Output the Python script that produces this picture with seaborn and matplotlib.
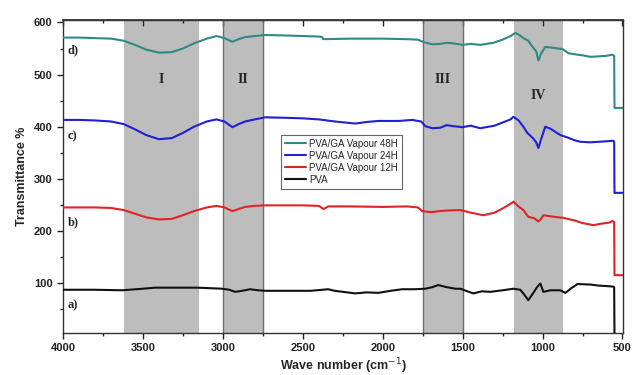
import numpy as np
import pandas as pd
import matplotlib
matplotlib.use("Agg")
import matplotlib.pyplot as plt
import seaborn as sns

# ---------------- data ----------------
wn_d = [4000, 3900, 3800, 3700, 3620, 3550, 3480, 3400, 3320, 3250, 3180, 3100, 3040, 2990,
        2940, 2900, 2860, 2800, 2735, 2600, 2500, 2400, 2380, 2370, 2200, 2000, 1850, 1780,
        1740, 1690, 1640, 1600, 1560, 1500, 1450, 1390, 1308, 1250, 1200, 1170, 1140, 1120,
        1090, 1057, 1040, 1026, 1010, 983, 950, 900, 876, 838, 800, 750, 700, 650, 600, 563,
        552, 550, 500]
val_d = [571, 571, 570, 569, 565, 557, 548, 542, 543, 550, 560, 569, 574, 570,
         563, 568, 572, 574, 576, 575, 574, 573, 572, 568, 569, 569, 568, 567,
         562, 558, 559, 561, 560, 557, 559, 557, 561, 567, 574, 580, 575, 570,
         565, 551, 545, 527, 540, 553, 552, 550, 549, 541, 539, 537, 534, 535, 536, 538,
         536, 436, 436]

wn_c = [4000, 3900, 3800, 3700, 3620, 3550, 3480, 3400, 3320, 3250, 3180, 3100, 3040, 2990,
        2940, 2900, 2860, 2800, 2735, 2600, 2500, 2400, 2300, 2172, 2100, 2028, 1900, 1815,
        1760, 1733, 1690, 1640, 1600, 1560, 1500, 1450, 1390, 1300, 1250, 1200, 1182, 1150,
        1120, 1095, 1060, 1040, 1026, 1010, 983, 950, 920, 889, 850, 800, 763, 700, 650, 600,
        557, 552, 550, 500]
val_c = [413, 413, 412, 410, 405, 395, 384, 376, 378, 388, 400, 410, 414, 410,
         399, 405, 410, 414, 418, 417, 416, 414, 410, 406, 409, 411, 411, 413,
         410, 401, 397, 398, 403, 401, 399, 402, 397, 402, 408, 414, 419, 412,
         400, 388, 378, 370, 359, 375, 400, 396, 390, 384, 380, 374, 371, 370, 371, 372,
         373, 371, 273, 273]

wn_b = [4000, 3900, 3800, 3700, 3620, 3550, 3480, 3400, 3320, 3250, 3180, 3100, 3040, 2990,
        2940, 2900, 2860, 2800, 2735, 2600, 2500, 2400, 2370, 2340, 2200, 2000, 1850, 1780,
        1753, 1700, 1640, 1600, 1514, 1450, 1370, 1300, 1250, 1200, 1182, 1150, 1120, 1089,
        1050, 1026, 1010, 995, 950, 900, 870, 800, 750, 682, 630, 580, 563, 552, 550, 500]
val_b = [245, 245, 245, 244, 240, 233, 226, 222, 223, 230, 238, 245, 248, 245,
         238, 242, 246, 248, 249, 249, 249, 248, 242, 247, 247, 246, 247, 245,
         238, 236, 238, 239, 240, 235, 230, 235, 243, 252, 256, 247, 240, 227,
         224, 218, 223, 230, 228, 226, 225, 220, 215, 211, 214, 216, 219, 217, 115, 115]

wn_a = [4000, 3800, 3630, 3500, 3424, 3300, 3155, 3005, 2960, 2923, 2880, 2829, 2780, 2735,
        2600, 2450, 2341, 2300, 2172, 2100, 2028, 1950, 1878, 1800, 1733, 1690, 1652, 1600,
        1546, 1514, 1470, 1433, 1380, 1327, 1250, 1182, 1140, 1120, 1089, 1060, 1032, 1014,
        995, 950, 889, 857, 820, 782, 700, 650, 594, 557, 552, 550, 500]
val_a = [87, 87, 86, 89, 91, 91, 91, 89, 87, 83, 85, 88, 86, 85,
         85, 85, 88, 85, 80, 82, 81, 85, 88, 88, 89, 92, 96, 92,
         89, 89, 84, 80, 84, 83, 86, 89, 87, 80, 67, 80, 93, 99,
         83, 86, 86, 81, 90, 98, 97, 95, 94, 93, 92, 0, 0]

series_names = ["PVA/GA Vapour 48H", "PVA/GA Vapour 24H", "PVA/GA Vapour 12H", "PVA"]
series_colors = ["#2e8b84", "#1f1fd6", "#e02424", "#111111"]
curve_tags = ["d)", "c)", "b)", "a)"]
curve_tag_y = [547, 382, 216, 58]

regions = [(3620, 3150), (3000, 2750), (1750, 1500), (1180, 870)]
region_names = ["I", "II", "III", "IV"]
region_label_y = [490, 490, 490, 459]
edged_regions = [1, 2]

# ---------------- figure ----------------
sns.set_theme(style="ticks")
plt.rcParams["font.family"] = ["Liberation Sans", "DejaVu Sans"]

fig = plt.figure(figsize=(6.36, 3.75), dpi=100)
ax = fig.add_axes([0.099, 0.112, 0.881, 0.835])

for i, (x0, x1) in enumerate(regions):
    ax.axvspan(x1, x0, color="#bdbdbd", lw=0, zorder=0)
    if i in edged_regions:
        ax.axvline(x0, color="#6e6e6e", lw=1.0, zorder=0.5)
        ax.axvline(x1, color="#6e6e6e", lw=1.0, zorder=0.5)

all_wn = [wn_d, wn_c, wn_b, wn_a]
all_val = [val_d, val_c, val_b, val_a]
frames = []
for name, w, v in zip(series_names, all_wn, all_val):
    frames.append(pd.DataFrame({"wn": w, "T": v, "series": name, "order": range(len(w))}))
df = pd.concat(frames, ignore_index=True)

for name, color in zip(series_names, series_colors):
    sub = df[df["series"] == name]
    sns.lineplot(data=sub, x="wn", y="T", color=color, lw=1.5, estimator=None,
                 sort=False, ax=ax, label=name, zorder=3)

ax.set_xlim(4000, 495)
ax.set_ylim(4, 605)
ax.set_xticks([4000, 3500, 3000, 2500, 2000, 1500, 1000, 500])
ax.set_xticks(np.arange(500, 4001, 250), minor=True)
ax.set_yticks([100, 200, 300, 400, 500, 600])
ax.set_yticks(np.arange(50, 601, 50), minor=True)
ax.tick_params(axis="both", which="major", direction="out", length=4, width=1,
               labelsize=8, colors="#222222")
ax.tick_params(axis="both", which="minor", direction="out", length=2.5, width=1)
for lab in ax.get_xticklabels() + ax.get_yticklabels():
    lab.set_fontweight("bold")
for sp in ax.spines.values():
    sp.set_visible(True)
    sp.set_color("#333333")
    sp.set_linewidth(1.0)

# inward ticks along the top frame
top = ax.secondary_xaxis("top")
top.set_xticks([4000, 3500, 3000, 2500, 2000, 1500, 1000, 500])
top.set_xticks(np.arange(500, 4001, 250), minor=True)
top.tick_params(which="major", direction="in", length=4, width=1, labeltop=False)
top.tick_params(which="minor", direction="in", length=2.5, width=1)
top.spines["top"].set_color("#333333")

ax.set_xlabel("Wave number (cm$^{-1}$)", fontsize=9, fontweight="bold", labelpad=2)
ax.set_ylabel("Transmittance %", fontsize=9, fontweight="bold", labelpad=4)

for tag, ty in zip(curve_tags, curve_tag_y):
    ax.text(3972, ty, tag, fontsize=9, fontweight="bold", family="Liberation Serif",
            ha="left", va="center", zorder=4)

for (x0, x1), name, ly in zip(regions, region_names, region_label_y):
    ax.text((x0 + x1) / 2, ly, name, fontsize=10, fontweight="bold",
            family="Liberation Serif", ha="center", va="center", zorder=4)

leg = ax.legend(loc="upper left", bbox_to_anchor=(0.38, 0.648), fontsize=7,
                frameon=True, fancybox=False, edgecolor="#666666", handlelength=2.2,
                handletextpad=0.3, borderpad=0.4, labelspacing=0.2, framealpha=1)
leg.get_frame().set_linewidth(0.8)

fig.savefig("out.png", dpi=100)
